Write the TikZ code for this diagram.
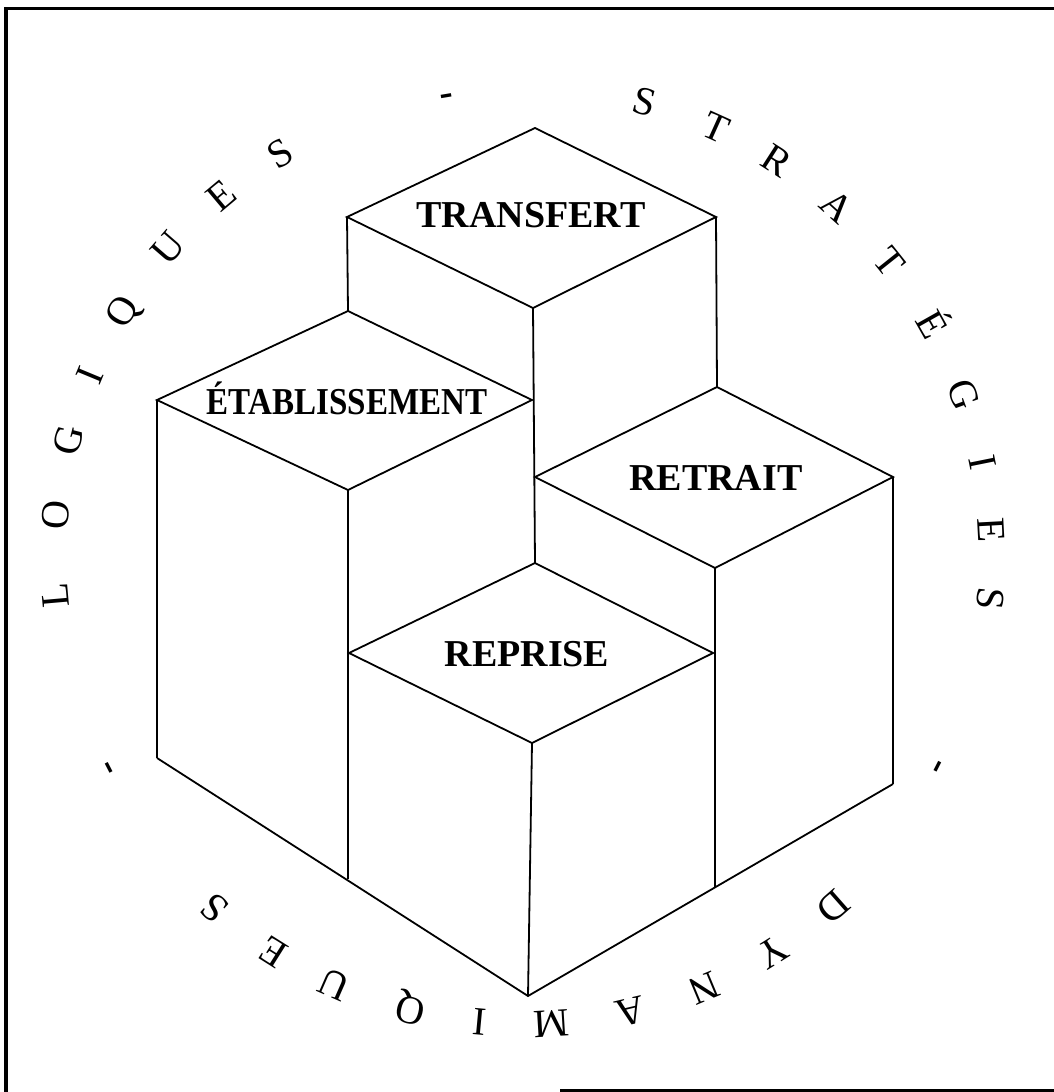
\documentclass[tikz,border=0pt]{standalone}
\usepackage{fontspec}
\setmainfont{Liberation Serif}
\begin{document}
\begin{tikzpicture}[x=1pt,y=-1pt,
  edge/.style={line width=1.8pt,line join=miter},
  frameline/.style={line width=3.3pt},
  lab/.style={font=\fontsize{38}{38}\selectfont\bfseries,inner sep=0pt,anchor=base},
  ring/.style={font=\fontsize{40}{40}\selectfont,inner sep=0pt,anchor=base}]
\useasboundingbox (0,0) rectangle (1053,1092);
% frame
\draw[frameline] (6,1100) -- (6,8.3) -- (1060,8.3);
\draw[frameline] (560,1091) -- (1060,1091);
% vertices
\coordinate (T1) at (535,128); \coordinate (T2) at (347,217);
\coordinate (T3) at (533,308); \coordinate (T4) at (716,217);
\coordinate (E1) at (348,311); \coordinate (E2) at (157,400);
\coordinate (E3) at (348,490); \coordinate (E4) at (532,400);
\coordinate (R1) at (717,387); \coordinate (R2) at (535,477);
\coordinate (R3) at (715,568); \coordinate (R4) at (893,477);
\coordinate (P1) at (535,563); \coordinate (P2) at (349,653);
\coordinate (P3) at (532,743); \coordinate (P4) at (713,653);
\coordinate (B1) at (157,758); \coordinate (B2) at (528,996);
\coordinate (B3) at (893,784); \coordinate (BL) at (348,879);
\coordinate (BR) at (715,887);
% top faces
\draw[edge] (T1) -- (T2) -- (T3) -- (T4) -- cycle;
\draw[edge] (E1) -- (E2) -- (E3) -- (E4) -- cycle;
\draw[edge] (R1) -- (R2) -- (R3) -- (R4) -- cycle;
\draw[edge] (P1) -- (P2) -- (P3) -- (P4) -- cycle;
% vertical edges
\draw[edge] (T2) -- (E1);
\draw[edge] (T3) -- (P1);
\draw[edge] (T4) -- (R1);
\draw[edge] (E2) -- (B1);
\draw[edge] (E3) -- (BL);
\draw[edge] (R3) -- (BR);
\draw[edge] (R4) -- (B3);
\draw[edge] (P3) -- (B2);
% base
\draw[edge] (B1) -- (B2) -- (B3);
% labels
\node[lab] (ntransfert) at (531,227.5) {TRANSFERT};
\node[lab] (netab) at (347,414) {\scalebox{0.87}[1]{ÉTABLISSEMENT}};
\node[lab] (nretrait) at (716,490) {RETRAIT};
\node[lab] (nreprise) at (527,666.5) {REPRISE};
% ring text
\coordinate (ctr) at (523,555);
\foreach \a/\c [count=\i] in {185/L,175.1/O,165.8/G,157.5/I,148.7/Q,139.1/U,130/E,121.1/S,99.4/\textbf{-},
  75/S,65.7/T,57.3/R,47.9/A,38.6/T,29.4/É,20/G,11.4/I,3.1/E,-5.3/S,-27/\textbf{-},
  -48.6/D,-57.9/Y,-67.3/N,-76.7/A,-86.5/M,-95.3/I,-103.9/Q,-113.7/U,-122.2/E,-131.2/S,-152.8/\textbf{-}}
  \node[ring,rotate=\a-90] (ring\i) at ([shift={(\a:456pt)}]ctr) {\c};
\end{tikzpicture}
\end{document}
